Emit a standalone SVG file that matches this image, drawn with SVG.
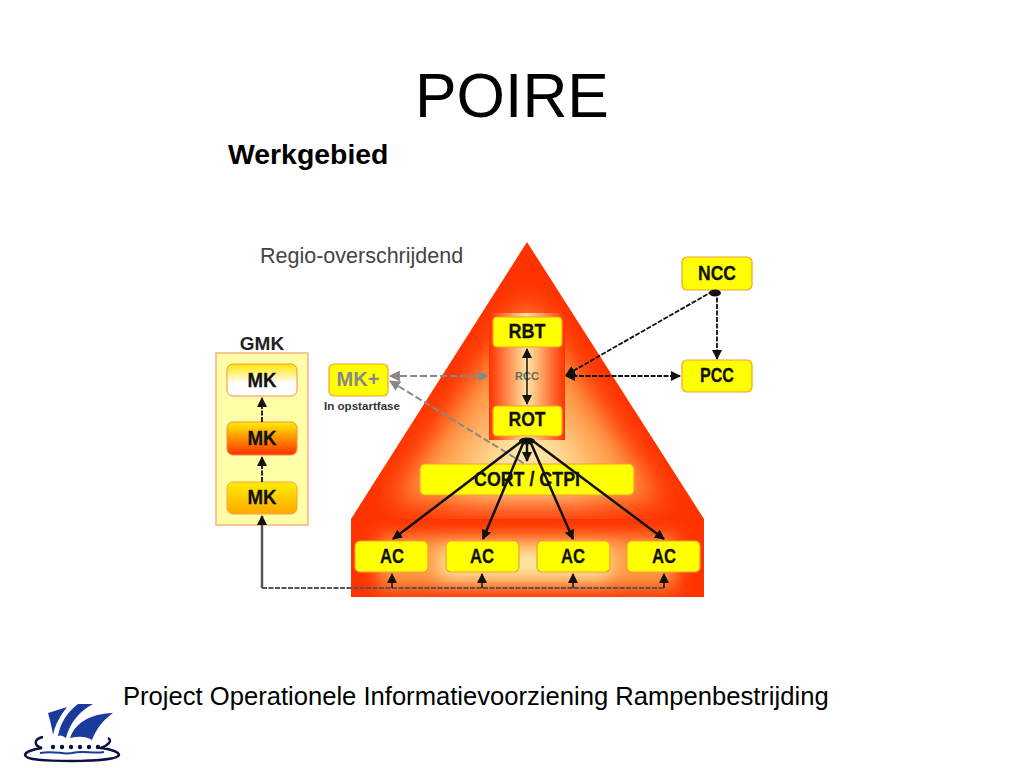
<svg xmlns="http://www.w3.org/2000/svg" width="1024" height="768" viewBox="0 0 1024 768">
<style>
text{font-family:"Liberation Sans",Arial,sans-serif}
.n{fill:#ffff00;stroke:#f5a030;stroke-width:1.2}
.l{font-weight:bold;font-size:21px;text-anchor:middle;fill:#111;stroke:#111;stroke-width:.3}
.k{fill:none;stroke:#111;stroke-width:2.5}
.s{fill:none;stroke:#111;stroke-width:1.5}
.t{fill:none;stroke:#111;stroke-width:1.8;stroke-dasharray:5 1.5}
.g{fill:none;stroke:#888;stroke-width:2;stroke-dasharray:7 3}
</style>
<defs>
<clipPath id="triClip"><path d="M527 242L704 519H351z"/></clipPath>
<clipPath id="baseClip"><rect x="351" y="519" width="353" height="78"/></clipPath>
<filter id="b" x="-30%" y="-30%" width="160%" height="160%"><feGaussianBlur stdDeviation="14"/></filter>
<filter id="b3" x="-40%" y="-40%" width="180%" height="180%"><feGaussianBlur stdDeviation="20"/></filter>
<filter id="b2" x="-30%" y="-80%" width="160%" height="260%"><feGaussianBlur stdDeviation="9"/></filter>
<linearGradient id="rcc" x1="0" y1="0" x2="1" y2="0"><stop offset="0" stop-color="#ff3300"/><stop offset=".5" stop-color="#ffe6a0"/><stop offset="1" stop-color="#ff3300"/></linearGradient>
<linearGradient id="mk1" x1="0" y1="0" x2="0" y2="1"><stop offset="0" stop-color="#ffe600"/><stop offset=".6" stop-color="#ffffff"/></linearGradient>
<linearGradient id="mk2" x1="0" y1="0" x2="0" y2="1"><stop offset="0" stop-color="#ffee00"/><stop offset="1" stop-color="#ff3000"/></linearGradient>
<linearGradient id="mk3" x1="0" y1="0" x2="0" y2="1"><stop offset="0" stop-color="#ffee00"/><stop offset="1" stop-color="#ffa800"/></linearGradient>
<marker id="a" viewBox="0 0 10 10" refX="9" refY="5" markerWidth="10" markerHeight="10" markerUnits="userSpaceOnUse" orient="auto-start-reverse"><path d="M0 0L10 5L0 10z" fill="#111"/></marker>
<marker id="ag" viewBox="0 0 10 10" refX="9" refY="5" markerWidth="11" markerHeight="11" markerUnits="userSpaceOnUse" orient="auto-start-reverse"><path d="M0 0L10 5L0 10z" fill="#888"/></marker>
</defs>
<text x="512" y="117" font-size="62.3" text-anchor="middle" fill="#000">POIRE</text>
<text x="228" y="164" font-size="28.4" font-weight="bold" fill="#000">Werkgebied</text>
<text x="260" y="263" font-size="21.5" fill="#444">Regio-overschrijdend</text>
<g id="pyramid">
<g clip-path="url(#triClip)">
<rect x="351" y="242" width="353" height="277" fill="#ff3300"/>
<path d="M527 300L662 502H392z" fill="#ff9c48" filter="url(#b)"/>
<path d="M527 385L605 490H449z" fill="#ffeaa8" filter="url(#b3)"/>
</g>
<g clip-path="url(#baseClip)">
<rect x="351" y="519" width="353" height="78" fill="#ff3300"/>
<rect x="378" y="536" width="298" height="52" fill="#ff9c48" filter="url(#b2)"/>
<rect x="440" y="548" width="170" height="30" fill="#ffeaa8" filter="url(#b2)"/>
</g>
</g>
<g id="rcc-box"><rect x="489" y="313" width="76" height="127" fill="url(#rcc)"/><text x="527" y="380" font-size="11" font-weight="bold" text-anchor="middle" fill="#666">RCC</text></g>
<g id="rbt"><rect class="n" x="493" y="317" width="69" height="30" rx="4"/><text class="l" x="527" y="338" textLength="37" lengthAdjust="spacingAndGlyphs">RBT</text></g>
<g id="rot"><rect class="n" x="493" y="406" width="69" height="30" rx="4"/><text class="l" x="527" y="426" textLength="37" lengthAdjust="spacingAndGlyphs">ROT</text></g>
<g id="cort"><rect class="n" x="420" y="464" width="214" height="31" rx="5"/><text class="l" x="527" y="486" textLength="106" lengthAdjust="spacingAndGlyphs">CORT / CTPI</text></g>
<g id="ac1"><rect class="n" x="355" y="541" width="73" height="31" rx="5"/><text class="l" x="392" y="563" textLength="24" lengthAdjust="spacingAndGlyphs">AC</text></g>
<g id="ac2"><rect class="n" x="446" y="541" width="73" height="31" rx="5"/><text class="l" x="482" y="563" textLength="24" lengthAdjust="spacingAndGlyphs">AC</text></g>
<g id="ac3"><rect class="n" x="537" y="541" width="73" height="31" rx="5"/><text class="l" x="573" y="563" textLength="24" lengthAdjust="spacingAndGlyphs">AC</text></g>
<g id="ac4"><rect class="n" x="627" y="541" width="73" height="31" rx="5"/><text class="l" x="664" y="563" textLength="24" lengthAdjust="spacingAndGlyphs">AC</text></g>
<g id="ncc"><rect class="n" x="682" y="257" width="70" height="33" rx="5"/><text class="l" x="717" y="280" textLength="38" lengthAdjust="spacingAndGlyphs">NCC</text></g>
<g id="pcc"><rect class="n" x="682" y="360" width="70" height="32" rx="5"/><text class="l" x="717" y="382" textLength="34" lengthAdjust="spacingAndGlyphs">PCC</text></g>
<g id="gmk"><text x="262" y="350" font-size="19" font-weight="bold" text-anchor="middle" fill="#222">GMK</text><rect x="216" y="353" width="92" height="172" fill="#ffffa8" stroke="#fbb080" stroke-width="1.5"/></g>
<g id="mk-top"><rect x="227" y="364" width="70" height="32" rx="6" fill="url(#mk1)" stroke="#f58a50"/><text class="l" x="262" y="387" textLength="29" lengthAdjust="spacingAndGlyphs">MK</text></g>
<g id="mk-mid"><rect x="227" y="422" width="70" height="33" rx="6" fill="url(#mk2)" stroke="#f58a50"/><text class="l" x="262" y="445" textLength="29" lengthAdjust="spacingAndGlyphs">MK</text></g>
<g id="mk-bot"><rect x="227" y="482" width="70" height="32" rx="6" fill="url(#mk3)" stroke="#f5a050"/><text class="l" x="262" y="504" textLength="29" lengthAdjust="spacingAndGlyphs">MK</text></g>
<g id="mk-plus"><rect class="n" x="329" y="364" width="59" height="32" rx="5"/><text x="358" y="386" font-size="20" font-weight="bold" text-anchor="middle" fill="#888">MK+</text><text x="362" y="410" font-size="11" font-weight="bold" text-anchor="middle" fill="#333" textLength="76" lengthAdjust="spacingAndGlyphs">In opstartfase</text></g>
<g id="connectors">
<path class="s" d="M527 349V404" marker-start="url(#a)" marker-end="url(#a)"/>
<path class="t" d="M566 376L680 376" marker-start="url(#a)" marker-end="url(#a)"/>
<path class="t" d="M713 291L566 375" marker-end="url(#a)" stroke-width="2.2"/>
<path class="t" d="M717 291V359" marker-end="url(#a)" stroke-width="2.2"/>
<ellipse cx="715" cy="293" rx="6" ry="3.5" fill="#111"/>
<ellipse cx="527" cy="441" rx="8" ry="3.5" fill="#111"/>
<path class="g" d="M390 376L488 376" marker-start="url(#ag)" marker-end="url(#ag)"/>
<path class="g" d="M390 381L525 464" marker-start="url(#ag)"/>
<path class="k" d="M527 441V461" marker-end="url(#a)"/>
<path class="k" d="M522 441L393 539" marker-end="url(#a)"/>
<path class="k" d="M524 441L483 539" marker-end="url(#a)"/>
<path class="k" d="M530 441L573 539" marker-end="url(#a)"/>
<path class="k" d="M533 441L664 539" marker-end="url(#a)"/>
<path class="k" d="M262 588V516" marker-end="url(#a)" style="stroke:#555"/>
<path class="t" d="M262 588H665" style="stroke:#555"/>
<path class="s" d="M392 588V574" marker-end="url(#a)"/>
<path class="s" d="M482 588V574" marker-end="url(#a)"/>
<path class="s" d="M573 588V574" marker-end="url(#a)"/>
<path class="s" d="M664 588V574" marker-end="url(#a)"/>
<path class="t" d="M262 422V398" marker-end="url(#a)"/>
<path class="t" d="M262 482V457" marker-end="url(#a)"/>
</g>
<text x="123" y="705" font-size="25.6" fill="#000">Project Operationele Informatievoorziening Rampenbestrijding</text>
<g id="logo">
<path d="M48 713L67 707C60 716 55 725 53 735C52 728 50 720 48 713z" fill="#1a3a9c"/>
<path d="M78 704L93 704C80 711 70 722 66 738C62 735 60 735 58 736C60 724 67 712 78 704z" fill="#1a3a9c"/>
<path d="M70 738C75 724 88 714 113 713C103 720 96 729 92 740C86 736 78 736 70 738z" fill="#1a3a9c"/>
<path d="M43 737C33 739 34 746 42 748C34 749 25 752 25 755C26 760 45 761 72 761C95 761 118 759 119 755C119 752 110 749 101 748C108 745 113 741 108 738" fill="none" stroke="#0a1040" stroke-width="2.5"/>
<g fill="#0a1040"><circle cx="53" cy="747" r="2.2"/><circle cx="62" cy="747" r="2.2"/><circle cx="71" cy="747" r="2.2"/><circle cx="80" cy="747" r="2.2"/><circle cx="89" cy="747" r="2.2"/><circle cx="98" cy="747" r="2.2"/></g>
<path d="M40 753C55 750 62 755 72 753C84 750 92 754 104 752" stroke="#1a3a9c" stroke-width="2" fill="none"/>
</g>
</svg>
